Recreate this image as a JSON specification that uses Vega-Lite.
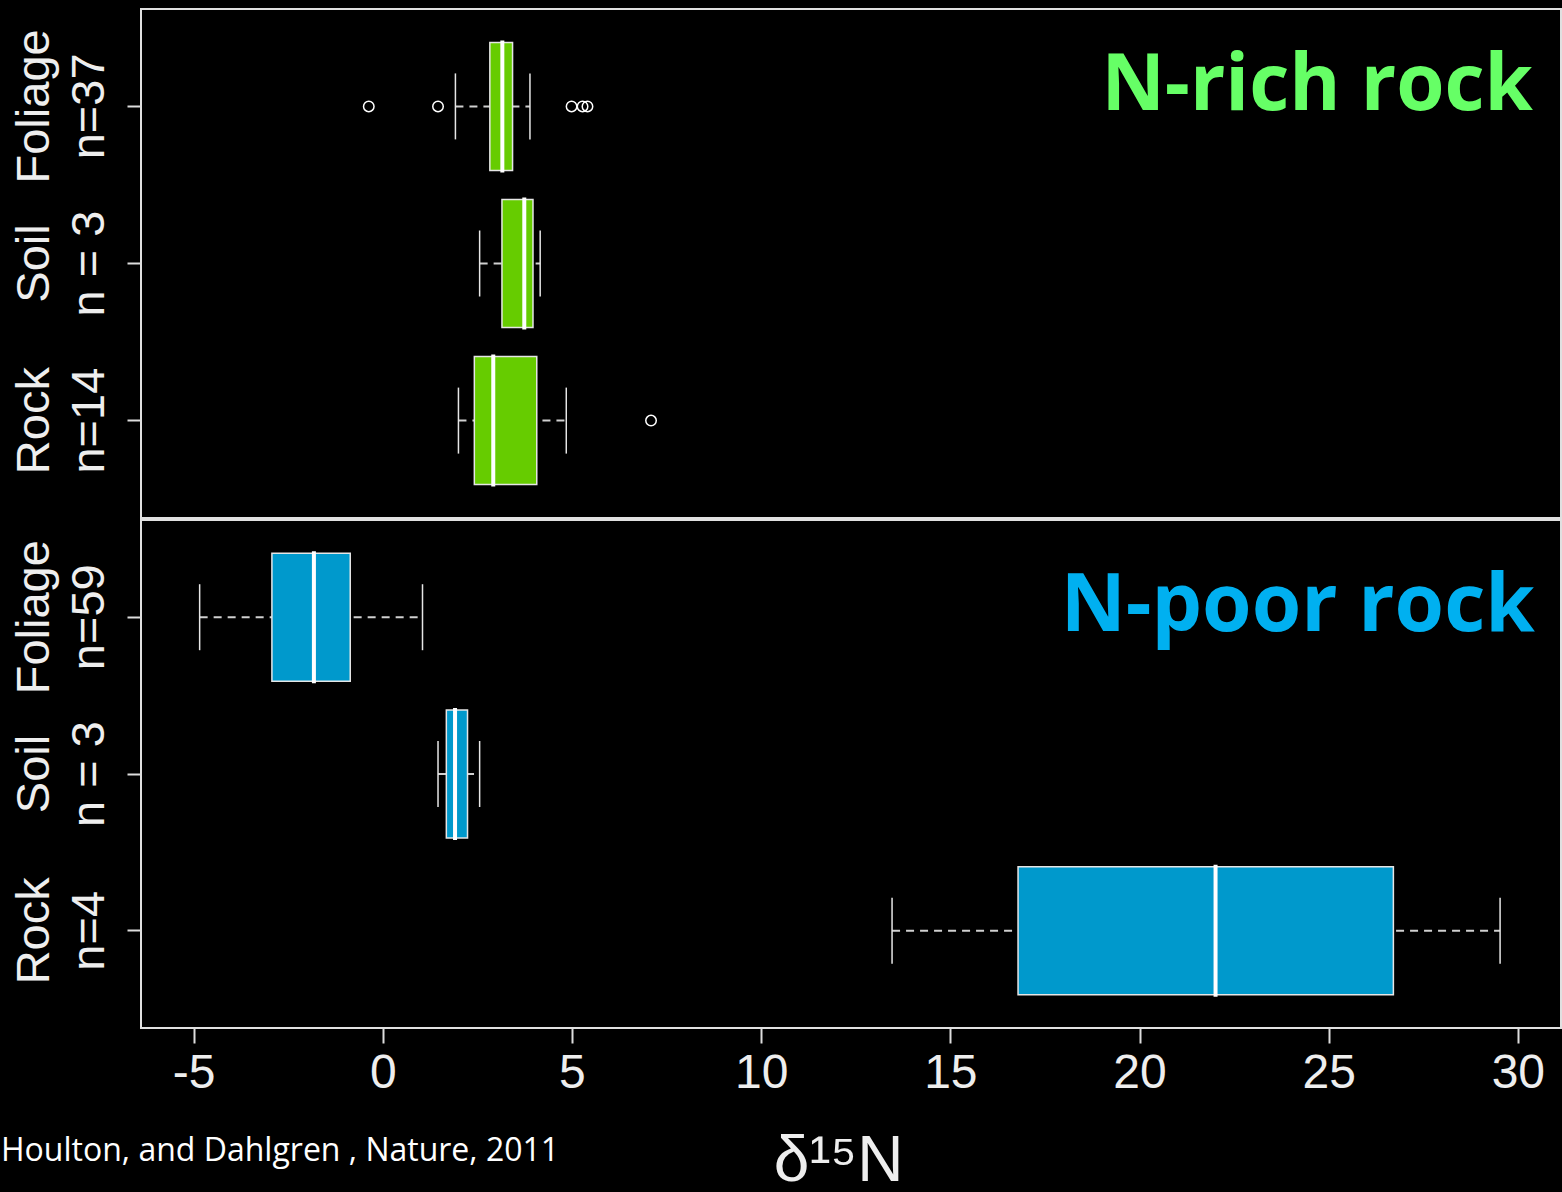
{
  "$schema": "https://vega.github.io/schema/vega-lite/v6.json",
  "background": "black",
  "padding": {"left": 1, "top": 8, "right": 0, "bottom": 0},
  "spacing": 0,
  "title": {
    "text": "Houlton, and Dahlgren , Nature, 2011",
    "orient": "bottom",
    "anchor": "start",
    "frame": "bounds",
    "font": "Open Sans",
    "fontSize": 32,
    "fontWeight": "normal",
    "color": "#ffffff",
    "offset": -58,
    "dx": -8
  },
  "datasets": {
    "boxes": [
      {"panel": "rich", "label": "Foliage|n=37", "lo": 1.92, "q1": 2.83, "med": 3.16, "q3": 3.43, "hi": 3.89},
      {"panel": "rich", "label": "Soil|n = 3", "lo": 2.56, "q1": 3.15, "med": 3.74, "q3": 3.97, "hi": 4.16},
      {"panel": "rich", "label": "Rock|n=14", "lo": 2.0, "q1": 2.42, "med": 2.92, "q3": 4.07, "hi": 4.85},
      {"panel": "poor", "label": "Foliage|n=59", "lo": -4.84, "q1": -2.93, "med": -1.82, "q3": -0.86, "hi": 1.05},
      {"panel": "poor", "label": "Soil|n = 3", "lo": 1.46, "q1": 1.68, "med": 1.91, "q3": 2.24, "hi": 2.56},
      {"panel": "poor", "label": "Rock|n=4", "lo": 13.46, "q1": 16.79, "med": 22.01, "q3": 26.71, "hi": 29.53}
    ],
    "outliers": [
      {"panel": "rich", "label": "Foliage|n=37", "v": -0.37},
      {"panel": "rich", "label": "Foliage|n=37", "v": 1.46},
      {"panel": "rich", "label": "Foliage|n=37", "v": 4.99},
      {"panel": "rich", "label": "Foliage|n=37", "v": 5.28},
      {"panel": "rich", "label": "Foliage|n=37", "v": 5.41},
      {"panel": "rich", "label": "Rock|n=14", "v": 7.09}
    ]
  },
  "vconcat": [
    {
      "width": 1420,
      "height": 509,
      "data": {"name": "boxes"},
      "transform": [{"filter": "datum.panel === 'rich'"}],
      "encoding": {
        "y": {
          "field": "label", "type": "nominal",
          "scale": {"domain": ["Foliage|n=37", "Soil|n = 3", "Rock|n=14"], "paddingInner": 0, "paddingOuter": 0.12},
          "axis": {"labelExpr": "split(datum.label, '|')", "title": null}
        }
      },
      "layer": [
        {
          "mark": {"type": "rule", "color": "#d0d0d0", "strokeWidth": 2, "strokeDash": [8, 6]},
          "encoding": {
            "x": {"field": "lo", "type": "quantitative", "scale": {"domain": [-6.39, 31.14], "nice": false, "zero": false}, "axis": null},
            "x2": {"field": "hi"}
          }
        },
        {
          "mark": {"type": "tick", "color": "#e6e6e6", "opacity": 1, "thickness": 1.5, "size": 66},
          "encoding": {"x": {"field": "lo", "type": "quantitative"}}
        },
        {
          "mark": {"type": "tick", "color": "#e6e6e6", "opacity": 1, "thickness": 1.5, "size": 66},
          "encoding": {"x": {"field": "hi", "type": "quantitative"}}
        },
        {
          "mark": {"type": "bar", "fill": "#66CC00", "stroke": "#e6e6e6", "strokeWidth": 1.5, "size": 128},
          "encoding": {"x": {"field": "q1", "type": "quantitative"}, "x2": {"field": "q3"}}
        },
        {
          "mark": {"type": "tick", "color": "#ffffff", "opacity": 1, "thickness": 4, "size": 132},
          "encoding": {"x": {"field": "med", "type": "quantitative"}}
        },
        {
          "data": {"name": "outliers"},
          "transform": [{"filter": "datum.panel === 'rich'"}],
          "mark": {"type": "point", "shape": "circle", "filled": false, "opacity": 1, "stroke": "#ffffff", "strokeWidth": 1.5, "size": 110},
          "encoding": {"x": {"field": "v", "type": "quantitative"}}
        },
        {
          "data": {"values": [{"text": "N-rich rock"}]},
          "mark": {"type": "text", "font": "Open Sans", "fontWeight": "bold", "fontSize": 78, "align": "right", "baseline": "alphabetic", "dy": 4, "color": "#66FF66"},
          "encoding": {
            "x": {"datum": 30.4, "type": "quantitative"},
            "y": {"datum": "Foliage|n=37", "type": "nominal"},
            "text": {"field": "text"}
          }
        }
      ]
    },
    {
      "width": 1420,
      "height": 508,
      "data": {"name": "boxes"},
      "transform": [{"filter": "datum.panel === 'poor'"}],
      "encoding": {
        "y": {
          "field": "label", "type": "nominal",
          "scale": {"domain": ["Foliage|n=59", "Soil|n = 3", "Rock|n=4"], "paddingInner": 0, "paddingOuter": 0.12},
          "axis": {"labelExpr": "split(datum.label, '|')", "title": null}
        }
      },
      "layer": [
        {
          "mark": {"type": "rule", "color": "#d0d0d0", "strokeWidth": 2, "strokeDash": [8, 6]},
          "encoding": {
            "x": {
              "field": "lo", "type": "quantitative",
              "scale": {"domain": [-6.39, 31.14], "nice": false, "zero": false},
              "axis": {
                "values": [-5, 0, 5, 10, 15, 20, 25, 30],
                "labelExpr": "datum.value + ''",
                "title": "δ¹⁵N",
                "titleX": 697
              }
            },
            "x2": {"field": "hi"}
          }
        },
        {
          "mark": {"type": "tick", "color": "#e6e6e6", "opacity": 1, "thickness": 1.5, "size": 66},
          "encoding": {"x": {"field": "lo", "type": "quantitative"}}
        },
        {
          "mark": {"type": "tick", "color": "#e6e6e6", "opacity": 1, "thickness": 1.5, "size": 66},
          "encoding": {"x": {"field": "hi", "type": "quantitative"}}
        },
        {
          "mark": {"type": "bar", "fill": "#0099CC", "stroke": "#e6e6e6", "strokeWidth": 1.5, "size": 128},
          "encoding": {"x": {"field": "q1", "type": "quantitative"}, "x2": {"field": "q3"}}
        },
        {
          "mark": {"type": "tick", "color": "#ffffff", "opacity": 1, "thickness": 4, "size": 132},
          "encoding": {"x": {"field": "med", "type": "quantitative"}}
        },
        {
          "data": {"values": [{"text": "N-poor rock"}]},
          "mark": {"type": "text", "font": "Open Sans", "fontWeight": "bold", "fontSize": 80, "align": "right", "baseline": "alphabetic", "dy": 14, "color": "#00B0F0"},
          "encoding": {
            "x": {"datum": 30.45, "type": "quantitative"},
            "y": {"datum": "Foliage|n=59", "type": "nominal"},
            "text": {"field": "text"}
          }
        }
      ]
    }
  ],
  "config": {
    "view": {"stroke": "#e0e0e0", "strokeWidth": 2},
    "axis": {"grid": false, "domain": false},
    "axisY": {
      "labelAngle": -90,
      "labelAlign": "center",
      "labelBaseline": "line-bottom",
      "labelLineHeight": 55,
      "labelFont": "Liberation Sans",
      "labelFontSize": 47,
      "labelColor": "#eeeeee",
      "labelPadding": 65,
      "labelLimit": 400,
      "tickSize": 14,
      "tickColor": "#dddddd",
      "tickWidth": 2
    },
    "axisX": {
      "labelFont": "Liberation Sans",
      "labelFontSize": 48,
      "labelColor": "#eeeeee",
      "labelPadding": 6,
      "tickSize": 15,
      "tickColor": "#dddddd",
      "tickWidth": 2,
      "titleFont": "Liberation Sans",
      "titleFontSize": 64,
      "titleFontWeight": "normal",
      "titleColor": "#eeeeee",
      "titlePadding": 32
    }
  }
}
